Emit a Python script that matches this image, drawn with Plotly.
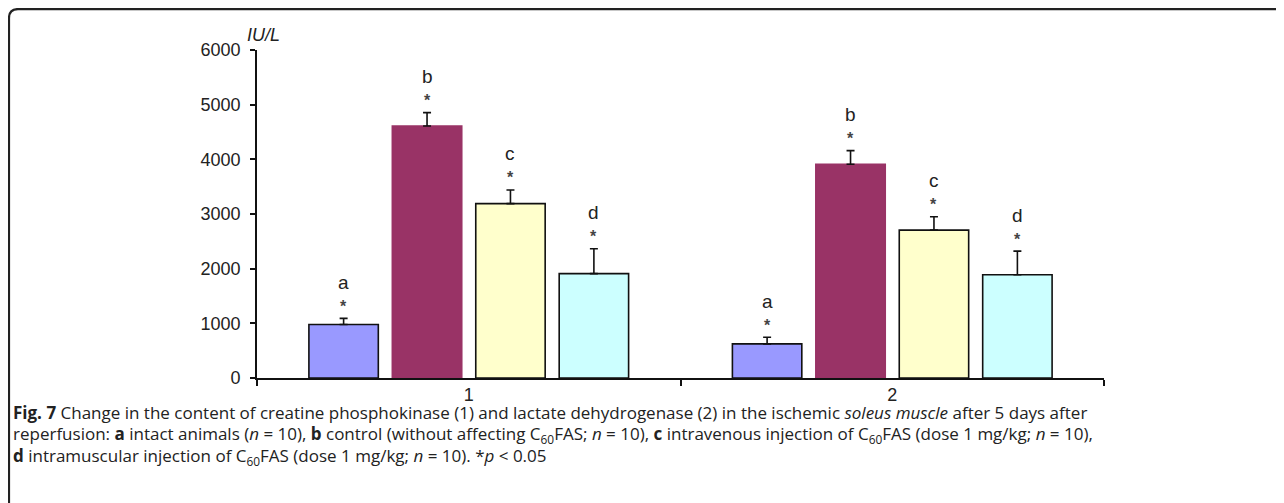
import plotly.graph_objects as go

# ---- data ----
groups = ["1", "2"]
series_names = ["a", "b", "c", "d"]
values = {
    "a": [980, 625],
    "b": [4610, 3910],
    "c": [3190, 2705],
    "d": [1910, 1890],
}
errors = {
    "a": [110, 120],
    "b": [245, 250],
    "c": [250, 245],
    "d": [455, 430],
}
y_ticks = [0, 1000, 2000, 3000, 4000, 5000, 6000]
y_unit = "IU/L"
caption_lines = [
    "<b>Fig. 7</b> Change in the content of creatine phosphokinase (1) and lactate dehydrogenase (2) in the ischemic <i>soleus muscle</i> after 5 days after",
    "reperfusion: <b>a</b> intact animals (<i>n</i> = 10), <b>b</b> control (without affecting C<sub>60</sub>FAS; <i>n</i> = 10), <b>c</b> intravenous injection of C<sub>60</sub>FAS (dose 1 mg/kg; <i>n</i> = 10),",
    "<b>d</b> intramuscular injection of C<sub>60</sub>FAS (dose 1 mg/kg; <i>n</i> = 10). *<i>p</i> &lt; 0.05",
]

# ---- styles ----
fills = {"a": "#9999FF", "b": "#993366", "c": "#FFFFCC", "d": "#CCFFFF"}
outlines = {"a": "#111111", "b": "#993366", "c": "#111111", "d": "#111111"}
W, H = 1284, 503
OFF = 8  # page body margin
PL, PR, PT, PB = 257, 1104, 50, 378.5  # plot area in page pixels
pw, ph = PR - PL, PB - PT
bargap = 0.212

fig = go.Figure()
for s in series_names:
    fig.add_trace(go.Bar(
        x=groups, y=values[s], name=s,
        marker=dict(color=fills[s], line=dict(color=outlines[s], width=1.6)),
        error_y=dict(type="data", array=errors[s], arrayminus=[0] * len(groups),
                     symmetric=False, color="#111111", thickness=1.6, width=4),
    ))

# letter + star annotations above each error bar
slot = (1 - bargap) / len(series_names)
for i, s in enumerate(series_names):
    off = (i - (len(series_names) - 1) / 2) * slot
    for gi, g in enumerate(groups):
        top = values[s][gi] + errors[s][gi]
        fig.add_annotation(x=gi + off, y=top, text="<b>*</b>", showarrow=False,
                           yanchor="middle", yshift=12,
                           font=dict(size=16, color="#444444", family="Liberation Sans"))
        fig.add_annotation(x=gi + off, y=top, text=s, showarrow=False,
                           yanchor="middle", yshift=36,
                           font=dict(size=19, color="#222222", family="Liberation Sans"))


def px(xp):
    return (xp - PL) / pw


def py_(yp):
    return 1 - (yp - PT) / ph


# unit label
fig.add_annotation(xref="paper", yref="paper", x=px(245), y=py_(35),
                   text=f"<i>{y_unit}</i>", showarrow=False, xanchor="left", yanchor="middle",
                   font=dict(size=18, color="#222222", family="Liberation Sans"))

# caption
cap_y = [413, 435, 457]
for line, yy in zip(caption_lines, cap_y):
    fig.add_annotation(xref="paper", yref="paper", x=px(12), y=py_(yy),
                       text=line, showarrow=False, xanchor="left", yanchor="middle",
                       borderpad=0,
                       font=dict(size=17, color="#222222", family="Open Sans"))

# rounded frame (top + left border)
r = 9
x0, y0 = 9, 9
path = (f"M {px(x0)},{py_(530)} L {px(x0)},{py_(y0 + r)} "
        f"Q {px(x0)},{py_(y0)} {px(x0 + r)},{py_(y0)} L {px(1310)},{py_(y0)}")
fig.add_shape(type="path", xref="paper", yref="paper", path=path,
              line=dict(color="#222222", width=2.2))

fig.update_layout(
    width=W, height=H,
    margin=dict(l=PL - OFF, r=W - (PR - OFF), t=PT - OFF, b=H - (PB - OFF)),
    barmode="group", bargap=bargap, bargroupgap=0.168,
    showlegend=False,
    plot_bgcolor="white", paper_bgcolor="white",
    font=dict(family="Liberation Sans", color="#222222"),
)
fig.update_xaxes(
    type="category", showline=True, linecolor="#111111", linewidth=1.6,
    ticks="outside", tickson="boundaries", ticklen=6, tickwidth=1.6, tickcolor="#111111",
    ticklabelstandoff=0,
    tickfont=dict(size=18, color="#222222"), showgrid=False, zeroline=False,
)
fig.update_yaxes(
    range=[0, 6000], tickvals=y_ticks, ticktext=[str(v) for v in y_ticks],
    showline=True, linecolor="#111111", linewidth=1.6,
    ticks="outside", ticklen=5, tickwidth=1.6, tickcolor="#111111",
    ticklabelstandoff=6,
    tickfont=dict(size=18, color="#222222"), showgrid=False, zeroline=False,
)

fig.write_html("out.html")
